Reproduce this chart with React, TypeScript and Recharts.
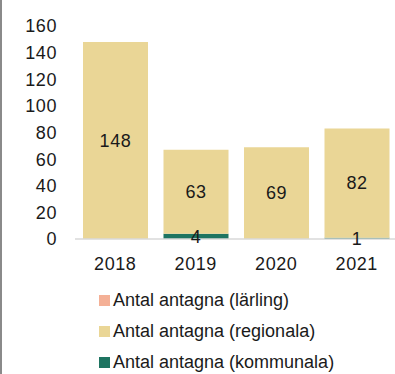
import React from 'react';
import { BarChart, Bar, XAxis, YAxis, LabelList } from 'recharts';

const years = ['2018', '2019', '2020', '2021'];
const larling = [0, 0, 0, 0];
const regionala = [148, 63, 69, 82];
const kommunala = [0, 4, 0, 1];
const yTicks = [0, 20, 40, 60, 80, 100, 120, 140, 160];

const data = years.map((year, i) => ({
    year,
    larling: larling[i],
    regionala: regionala[i],
    kommunala: kommunala[i],
}));

const FONT = '"Liberation Sans", Arial, sans-serif';
const TEXT = '#1a1a1a';

const legendItems = [
    { label: 'Antal antagna (lärling)', color: '#F4B096' },
    { label: 'Antal antagna (regionala)', color: '#EAD696' },
    { label: 'Antal antagna (kommunala)', color: '#1E7461' },
];

const hideZero = (v: any) => (v ? v : '');

const App: React.FC = () => {
    return (
        <div
            style={{
                position: 'absolute',
                left: 0,
                top: 0,
                width: 395,
                height: 374,
                overflow: 'hidden',
                background: '#fff',
                fontFamily: FONT,
            }}
        >
            <div style={{ position: 'absolute', left: 0, top: 0, width: 2, height: 374, background: '#8a8a8a' }}></div>
            <BarChart
                width={400}
                height={300}
                data={data}
                margin={{ top: 26, right: 3, bottom: 0, left: 0 }}
                barSize={65}
            >
                <XAxis
                    dataKey="year"
                    height={61}
                    tickLine={false}
                    axisLine={{ stroke: '#D9D9D9', strokeWidth: 1.5 }}
                    tickMargin={12}
                    tick={{ fill: TEXT, fontSize: 18, fontFamily: FONT, letterSpacing: 0.6 }}
                />
                <YAxis
                    width={75}
                    domain={[0, 160]}
                    ticks={yTicks}
                    axisLine={false}
                    tickLine={false}
                    tickMargin={12}
                    tick={{ fill: TEXT, fontSize: 18, fontFamily: FONT, letterSpacing: 0.6 }}
                />
                <Bar dataKey="kommunala" stackId="a" fill="#1E7461" isAnimationActive={false}>
                    <LabelList
                        dataKey="kommunala"
                        position="center"
                        formatter={hideZero}
                        style={{ fill: TEXT, fontSize: 18, fontFamily: FONT, letterSpacing: 0.6 }}
                    />
                </Bar>
                <Bar dataKey="regionala" stackId="a" fill="#EAD696" isAnimationActive={false}>
                    <LabelList
                        dataKey="regionala"
                        position="center"
                        formatter={hideZero}
                        style={{ fill: TEXT, fontSize: 18, fontFamily: FONT, letterSpacing: 0.6 }}
                    />
                </Bar>
                <Bar dataKey="larling" stackId="a" fill="#F4B096" isAnimationActive={false} />
            </BarChart>
            {legendItems.map((item, i) => (
                <div
                    key={item.label}
                    style={{
                        position: 'absolute',
                        left: 99,
                        top: 290 + i * 31,
                        height: 20,
                        display: 'flex',
                        alignItems: 'center',
                        gap: 3,
                    }}
                >
                    <div style={{ width: 11, height: 11, background: item.color }}></div>
                    <span style={{ fontSize: 18, color: TEXT, whiteSpace: 'nowrap' }}>{item.label}</span>
                </div>
            ))}
        </div>
    );
};

export default App;
